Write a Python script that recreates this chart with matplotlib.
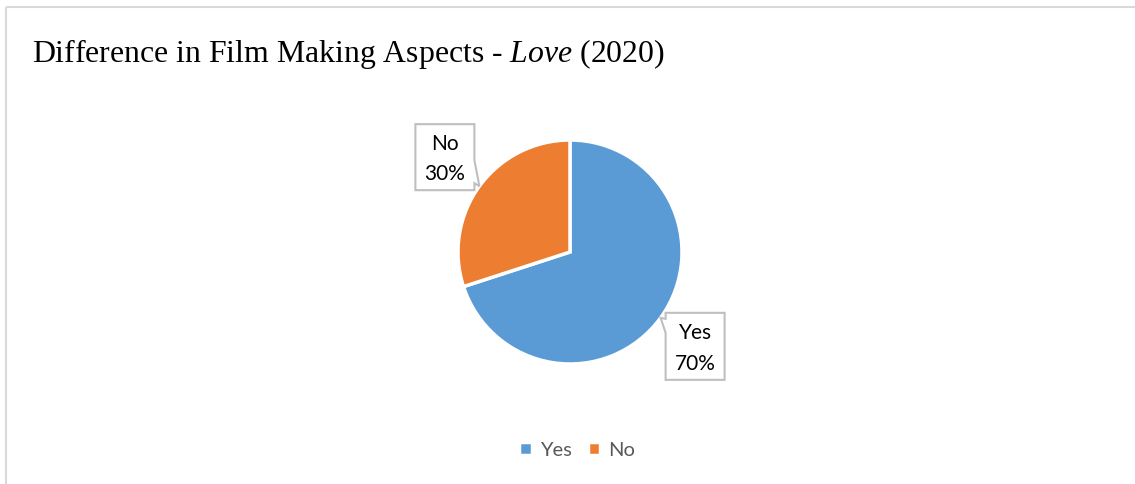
import numpy as np
import matplotlib.pyplot as plt
from matplotlib.patches import Polygon

plt.rcParams['mathtext.fontset'] = 'custom'
plt.rcParams['mathtext.rm'] = 'Liberation Serif'
plt.rcParams['mathtext.it'] = 'Liberation Serif:italic'

# Survey answers
labels = ['Yes', 'No']
shares = [70, 30]
colors = ['#5B9BD5', '#ED7D31']

W, H = 1135, 484
fig = plt.figure(figsize=(W / 100, H / 100), dpi=100)
ax = fig.add_axes([0, 0, 1, 1])
ax.set_xlim(0, W)
ax.set_ylim(0, H)
ax.set_aspect('equal')
ax.axis('off')

# chart area frame (only top/left edges fall inside the canvas)
ax.plot([5.5, W], [H - 7, H - 7], color='#D9D9D9', lw=1.5, solid_capstyle='butt')
ax.plot([5.5, 5.5], [H - 7, 0], color='#D9D9D9', lw=1.5, solid_capstyle='butt')

ax.text(32, H - 62, r'Difference in Film Making Aspects - $\mathit{Love}$ (2020)',
        fontsize=22.9, family='Liberation Serif', ha='left', va='baseline', color='black')

cx, cy, r = 570, H - 252, 112
wedges, _ = ax.pie(shares, colors=colors, startangle=90, counterclock=False,
                   center=(cx, cy), radius=r, frame=True,
                   wedgeprops=dict(edgecolor='white', linewidth=2.5))
ax.set_xlim(0, W)
ax.set_ylim(0, H)
ax.axis('off')


def callout(tip, box, side, text):
    # box = (x0, y0, x1, y1); the tail leaves the box from the given side
    x0, y0, x1, y1 = box
    tx, ty = tip
    if side == 'left':
        pts = [(x0, y1), (x0, y1 - 6), (tx, ty), (x0, y1 - 20),
               (x0, y0), (x1, y0), (x1, y1)]
    else:
        pts = [(x1, y0), (x1, y0 + 7), (tx, ty), (x1, y0 + 30),
               (x1, y1), (x0, y1), (x0, y0)]
    ax.add_patch(Polygon(pts, closed=True, fc='white', ec='#BFBFBF', lw=1.5, zorder=5))
    ax.text((x0 + x1) / 2, (y0 + y1) / 2 - 2, text, ha='center', va='center',
            fontsize=15, family='Lato', color='black', linespacing=1.65, zorder=6)


angle = 90.0
for w, lab, val in zip(wedges, labels, shares):
    span = 360.0 * val / sum(shares)
    mid = np.deg2rad(angle - span / 2)
    angle -= span
    tx, ty = cx + r * np.cos(mid), cy + r * np.sin(mid)
    txt = f'{lab}\n{val}%'
    if np.cos(mid) > 0:
        callout((tx, ty), (tx + 5, ty - 62, tx + 64, ty + 5), 'left', txt)
    else:
        callout((tx, ty), (tx - 64, ty - 4, tx - 5, ty + 62), 'right', txt)

leg = ax.legend(wedges, labels, loc='center', bbox_to_anchor=(577 / W, 1 - 450 / H),
                ncol=2, frameon=False, handlelength=0.6, handleheight=0.6,
                handletextpad=0.4, columnspacing=0.8, borderpad=0,
                prop=dict(family='Lato', size=14.5))
for t in leg.get_texts():
    t.set_color('#595959')

fig.savefig('out.png', dpi=100)
